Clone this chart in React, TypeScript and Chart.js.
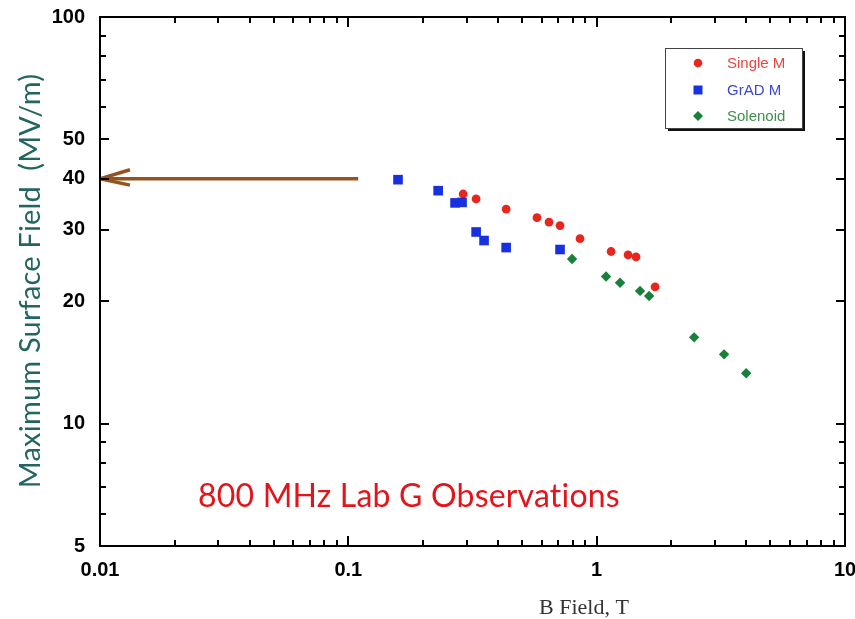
import { useEffect, useRef } from 'react';
import { Chart, registerables } from 'chart.js';

Chart.register(...registerables);

// ---- Data (B field in T, max surface field in MV/m) ----
const singleM_B = [0.29, 0.327, 0.432, 0.575, 0.643, 0.712, 0.857, 1.143, 1.338, 1.441, 1.719];
const singleM_E = [36.7, 35.7, 33.7, 32.1, 31.3, 30.7, 28.5, 26.5, 26.0, 25.7, 21.7];
const gradM_B = [0.1585, 0.23, 0.269, 0.287, 0.327, 0.352, 0.432, 0.712];
const gradM_E = [39.8, 37.4, 34.9, 35.0, 29.6, 28.2, 27.1, 26.8];
const solenoid_B = [0.796, 1.091, 1.242, 1.495, 1.626, 2.469, 3.26, 4.0];
const solenoid_E = [25.4, 23.0, 22.2, 21.2, 20.6, 16.3, 14.8, 13.3];
const arrowShaft_B = [0.01, 0.1096];
const arrowShaft_E = [40, 40];
const arrowHead_B = [0.0132, 0.01, 0.0132];
const arrowHead_E = [42.1, 40, 38.6];

const xTickValues = [
  0.01, 0.02, 0.03, 0.04, 0.05, 0.06, 0.07, 0.08, 0.09,
  0.1, 0.2, 0.3, 0.4, 0.5, 0.6, 0.7, 0.8, 0.9,
  1, 2, 3, 4, 5, 6, 7, 8, 9, 10,
];
const xTickLabels = [0.01, 0.1, 1, 10];
const yTickValues = [5, 6, 7, 8, 9, 10, 20, 30, 40, 50, 60, 70, 80, 90, 100];
const yTickLabels = [5, 10, 20, 30, 40, 50, 100];

const seriesNames = ['Single M', 'GrAD M', 'Solenoid'];
const titleText = '800 MHz Lab G Observations';
const yTitleText = 'Maximum Surface Field  (MV/m)';
const xTitleText = 'B Field, T';

const pairs = (xs: number[], ys: number[]) => xs.map((v, i) => ({ x: v, y: ys[i] }));

function fitFont(ctx: CanvasRenderingContext2D, text: string, family: string, weight: string, target: number) {
  (ctx as any).letterSpacing = '0.2px';
  ctx.font = `${weight} 20px ${family}`;
  const w = ctx.measureText(text).width;
  const size = (20 * target) / w;
  ctx.font = `${weight} ${size.toFixed(2)}px ${family}`;
}

const decorPlugin = {
  id: 'decor',
  afterDatasetsDraw(chart: any) {
    const { ctx, chartArea: a, scales } = chart;
    const xs = scales.x;
    const ys = scales.y;
    ctx.save();
    ctx.strokeStyle = '#000';
    ctx.lineWidth = 2;
    ctx.strokeRect(a.left, a.top, a.right - a.left, a.bottom - a.top);
    const seg = (x1: number, y1: number, x2: number, y2: number) => {
      ctx.beginPath();
      ctx.moveTo(x1, y1);
      ctx.lineTo(x2, y2);
      ctx.stroke();
    };
    xTickValues.forEach((v) => {
      const px = Math.round(xs.getPixelForValue(v));
      const len = xTickLabels.includes(v) ? 10 : 6;
      seg(px, a.bottom, px, a.bottom - len);
      seg(px, a.top, px, a.top + len);
    });
    yTickValues.forEach((v) => {
      const py = Math.round(ys.getPixelForValue(v));
      const len = yTickLabels.includes(v) ? 9 : 6;
      seg(a.left, py, a.left + len, py);
      seg(a.right, py, a.right - len, py);
    });

    // Legend box
    const lx = 665, ly = 48, lw = 137, lh = 80;
    ctx.fillStyle = '#111';
    ctx.fillRect(lx + 3, ly + 3, lw, lh);
    ctx.fillStyle = '#fff';
    ctx.fillRect(lx, ly, lw, lh);
    ctx.lineWidth = 1;
    ctx.strokeStyle = '#444';
    ctx.strokeRect(lx + 0.5, ly + 0.5, lw, lh);
    const colors = ['#e8261e', '#1730e0', '#17803a'];
    const textColors = ['#e8463e', '#3c46d8', '#3f8f4f'];
    const rows = [63, 90, 116];
    ctx.font = '15px "Liberation Sans", Arial, sans-serif';
    ctx.textAlign = 'left';
    ctx.textBaseline = 'middle';
    rows.forEach((ry, i) => {
      const mx = 698;
      ctx.fillStyle = colors[i];
      ctx.beginPath();
      if (i === 0) {
        ctx.arc(mx, ry, 4.3, 0, Math.PI * 2);
      } else if (i === 1) {
        ctx.rect(mx - 4.5, ry - 4.5, 9, 9);
      } else {
        ctx.moveTo(mx - 5, ry);
        ctx.lineTo(mx, ry - 5);
        ctx.lineTo(mx + 5, ry);
        ctx.lineTo(mx, ry + 5);
        ctx.closePath();
      }
      ctx.fill();
      ctx.fillStyle = textColors[i];
      ctx.fillText(seriesNames[i], 727, ry + 1);
    });

    // Annotation title
    ctx.fillStyle = '#e3151b';
    ctx.textAlign = 'left';
    ctx.textBaseline = 'alphabetic';
    fitFont(ctx, titleText, 'Lato, "Open Sans", sans-serif', 'normal', 425);
    ctx.fillText(titleText, 198, 507);

    // X axis title
    (ctx as any).letterSpacing = '0px';
    ctx.fillStyle = '#333';
    ctx.textAlign = 'center';
    ctx.font = '22px "Liberation Serif", "Times New Roman", serif';
    ctx.fillText(xTitleText, 584, 614);

    // Y axis title
    ctx.translate(31, 281);
    ctx.rotate(-Math.PI / 2);
    ctx.fillStyle = '#22665f';
    ctx.textAlign = 'center';
    ctx.textBaseline = 'middle';
    fitFont(ctx, yTitleText, 'Lato, "Open Sans", sans-serif', 'normal', 417);
    ctx.fillText(yTitleText, 0, 0);
    ctx.restore();
  },
};

export default function App() {
  const ref = useRef<HTMLCanvasElement | null>(null);
  useEffect(() => {
    if (!ref.current) return;
    Chart.defaults.font.family = '"Liberation Sans", Arial, sans-serif';
    const chart = new Chart(ref.current, {
      type: 'scatter',
      data: {
        datasets: [
          {
            label: 'arrow',
            data: pairs(arrowShaft_B, arrowShaft_E),
            showLine: true,
            borderColor: '#93541f',
            borderWidth: 3.5,
            pointRadius: 0,
          },
          {
            label: 'arrowhead',
            data: pairs(arrowHead_B, arrowHead_E),
            showLine: true,
            borderColor: '#93541f',
            borderWidth: 3.5,
            pointRadius: 0,
          },
          {
            label: seriesNames[2],
            data: pairs(solenoid_B, solenoid_E),
            pointStyle: 'rectRot',
            pointRadius: 5.2,
            backgroundColor: '#17803a',
            borderWidth: 0,
          },
          {
            label: seriesNames[1],
            data: pairs(gradM_B, gradM_E),
            pointStyle: 'rect',
            pointRadius: 6.8,
            backgroundColor: '#1730e0',
            borderWidth: 0,
          },
          {
            label: seriesNames[0],
            data: pairs(singleM_B, singleM_E),
            pointStyle: 'circle',
            pointRadius: 4.4,
            backgroundColor: '#e8261e',
            borderWidth: 0,
          },
        ],
      },
      options: {
        responsive: false,
        animation: false,
        layout: { padding: { top: 17, right: 10, left: 0, bottom: 0 } },
        plugins: { legend: { display: false }, tooltip: { enabled: false } },
        scales: {
          x: {
            type: 'logarithmic',
            min: 0.01,
            max: 10,
            grid: { display: false, drawTicks: false },
            border: { display: false },
            afterBuildTicks: (s: any) => {
              s.ticks = xTickValues.map((v) => ({ value: v }));
            },
            afterFit: (s: any) => {
              s.height = 73;
              s.paddingLeft = 0;
              s.paddingRight = 0;
            },
            ticks: {
              autoSkip: false,
              maxRotation: 0,
              padding: 12,
              color: '#000',
              font: { size: 20, weight: 'bold' },
              callback: (v: any) => (xTickLabels.includes(Number(v)) ? String(v) : ''),
            },
          },
          y: {
            type: 'logarithmic',
            min: 5,
            max: 100,
            grid: { display: false, drawTicks: false },
            border: { display: false },
            afterBuildTicks: (s: any) => {
              s.ticks = yTickValues.map((v) => ({ value: v }));
            },
            afterFit: (s: any) => {
              s.width = 100;
              s.paddingTop = 0;
              s.paddingBottom = 0;
            },
            ticks: {
              autoSkip: false,
              padding: 15,
              color: '#000',
              font: { size: 20, weight: 'bold' },
              callback: (v: any) => (yTickLabels.includes(Number(v)) ? String(v) : ''),
            },
          },
        },
      },
      plugins: [decorPlugin],
    } as any);
    return () => chart.destroy();
  }, []);
  return (
    <div style={{ position: 'fixed', left: 0, top: 0, width: 855, height: 619, background: '#fff' }}>
      <canvas ref={ref} width={855} height={619} />
    </div>
  );
}
